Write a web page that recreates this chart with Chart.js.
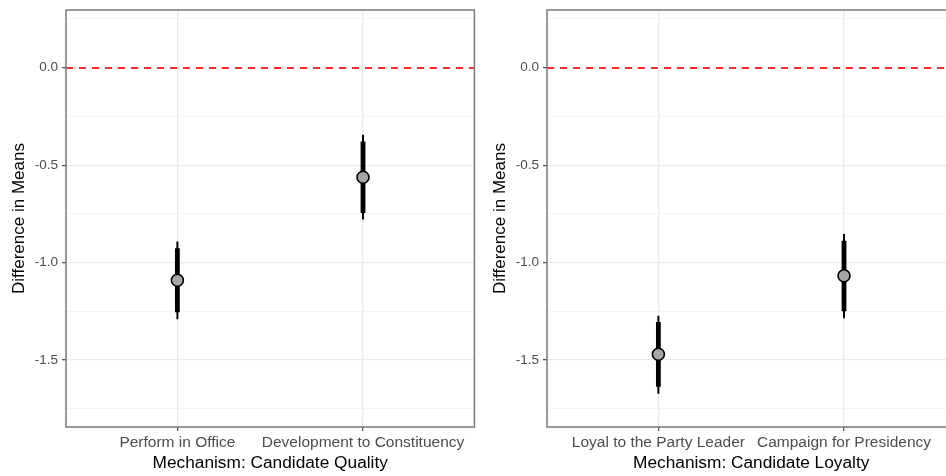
<!DOCTYPE html>
<html>
<head>
<meta charset="utf-8">
<script src="https://cdn.jsdelivr.net/npm/chart.js@4/dist/chart.umd.min.js"></script>
<style>
html,body{margin:0;padding:0;background:#fff;overflow:hidden;}
#wrap{position:relative;width:946px;height:476px;overflow:hidden;background:#fff;}
canvas{position:absolute;top:0;}
#c1{left:0;}
#c2{left:481px;}
</style>
</head>
<body>
<div id="wrap">
<canvas id="c1" width="482" height="476"></canvas>
<canvas id="c2" width="482" height="476"></canvas>
</div>
<script>
// ---- Data ----
const qualityCategories = ['Perform in Office', 'Development to Constituency'];
const qualityEstimate   = [-1.09, -0.562];
const quality90Low      = [-1.255, -0.745];
const quality90High     = [-0.926, -0.379];
const quality95Low      = [-1.29, -0.778];
const quality95High     = [-0.892, -0.344];

const loyaltyCategories = ['Loyal to the Party Leader', 'Campaign for Presidency'];
const loyaltyEstimate   = [-1.47, -1.067];
const loyalty90Low      = [-1.636, -1.249];
const loyalty90High     = [-1.304, -0.887];
const loyalty95Low      = [-1.673, -1.285];
const loyalty95High     = [-1.272, -0.853];

const yMajorTicks  = [0, -0.5, -1, -1.5];
const yTickLabels  = ['0.0', '-0.5', '-1.0', '-1.5'];
const yMinorTicks  = [0.25, -0.25, -0.75, -1.25, -1.75];
const yMin = -1.843, yMax = 0.296;
const refLineValue = 0;

const yTitle = 'Difference in Means';
const qualityXTitle = 'Mechanism: Candidate Quality';
const loyaltyXTitle = 'Mechanism: Candidate Loyalty';

// ---- Chart setup ----
Chart.defaults.font.family = "'Liberation Sans', Arial, sans-serif";

const panelDecor = {
  id: 'panelDecor',
  beforeDatasetsDraw(chart) {
    const {ctx, chartArea: a, scales: {y}} = chart;
    const py = Math.round(y.getPixelForValue(refLineValue));
    ctx.save();
    ctx.strokeStyle = '#FF2A2A';
    ctx.lineWidth = 2;
    ctx.setLineDash([7, 6]);
    ctx.beginPath();
    ctx.moveTo(a.left, py);
    ctx.lineTo(a.right, py);
    ctx.stroke();
    ctx.restore();
  },
  afterDatasetsDraw(chart) {
    const {ctx, chartArea: a} = chart;
    ctx.save();
    ctx.strokeStyle = '#7A7A7A';
    ctx.lineWidth = 1.5;
    ctx.strokeRect(a.left, a.top, a.right - a.left, a.bottom - a.top);
    ctx.restore();
  }
};

function isMajor(v) { return yMajorTicks.indexOf(v) >= 0; }

function makePanel(canvasId, cats, est, lo90, hi90, lo95, hi95, xTitle) {
  const datasets = [];
  cats.forEach((c, i) => {
    datasets.push({
      data: [{x: i + 1, y: lo95[i]}, {x: i + 1, y: hi95[i]}],
      showLine: true, borderColor: '#000', borderWidth: 2, borderCapStyle: 'butt',
      pointRadius: 0, order: 2
    });
    datasets.push({
      data: [{x: i + 1, y: lo90[i]}, {x: i + 1, y: hi90[i]}],
      showLine: true, borderColor: '#000', borderWidth: 4.8, borderCapStyle: 'butt',
      pointRadius: 0, order: 1
    });
  });
  datasets.push({
    data: est.map((v, i) => ({x: i + 1, y: v})),
    showLine: false, pointRadius: 6, pointBackgroundColor: '#A6A6A6',
    pointBorderColor: '#000', pointBorderWidth: 1.6, order: 0
  });

  return new Chart(document.getElementById(canvasId), {
    type: 'scatter',
    data: {datasets},
    options: {
      responsive: false,
      animation: false,
      layout: {padding: {left: 0, right: 4, top: 10, bottom: 0}},
      plugins: {legend: {display: false}, tooltip: {enabled: false}},
      scales: {
        x: {
          type: 'linear',
          min: 0.4, max: 2.6,
          afterBuildTicks(scale) { scale.ticks = cats.map((c, i) => ({value: i + 1})); },
          afterFit(scale) { scale.height = 49; scale.paddingLeft = 0; scale.paddingRight = 0; },
          border: {display: false},
          grid: {color: '#EBEBEB', lineWidth: 1.3, tickColor: '#555', tickLength: 4},
          ticks: {
            autoSkip: false, maxRotation: 0, minRotation: 0, padding: 2,
            color: '#4D4D4D', font: {size: 15.5},
            callback: (v) => cats[Math.round(v) - 1]
          },
          title: {display: true, text: xTitle, color: '#000', font: {size: 17.3}, padding: {top: 0, bottom: 2}}
        },
        y: {
          type: 'linear',
          min: yMin, max: yMax,
          afterBuildTicks(scale) {
            scale.ticks = yMajorTicks.concat(yMinorTicks).sort((a, b) => a - b).map(v => ({value: v}));
          },
          afterFit(scale) { scale.width = 66; scale.paddingTop = 0; scale.paddingBottom = 0; },
          border: {display: false},
          grid: {
            color: (c) => isMajor(c.tick.value) ? '#EBEBEB' : '#F3F3F3',
            lineWidth: (c) => isMajor(c.tick.value) ? 1.3 : 0.9,
            tickColor: (c) => isMajor(c.tick.value) ? '#555' : 'rgba(0,0,0,0)',
            tickLength: 4
          },
          ticks: {
            autoSkip: false, padding: 4, color: '#4D4D4D', font: {size: 13.5},
            callback: (v) => { const k = yMajorTicks.indexOf(v); return k >= 0 ? yTickLabels[k] : ''; }
          },
          title: {display: true, text: yTitle, color: '#000', font: {size: 17}, padding: {top: 9, bottom: 0}}
        }
      }
    },
    plugins: [panelDecor]
  });
}

makePanel('c1', qualityCategories, qualityEstimate, quality90Low, quality90High, quality95Low, quality95High, qualityXTitle);
makePanel('c2', loyaltyCategories, loyaltyEstimate, loyalty90Low, loyalty90High, loyalty95Low, loyalty95High, loyaltyXTitle);
</script>
</body>
</html>
